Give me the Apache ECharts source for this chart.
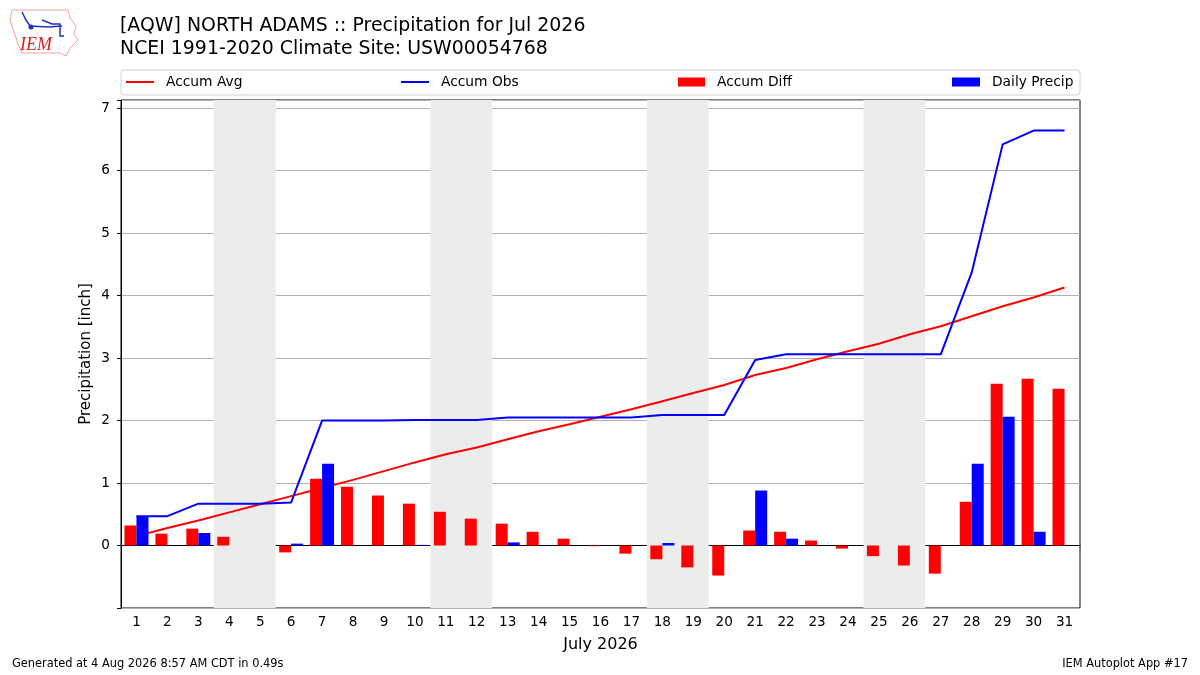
<!DOCTYPE html>
<html>
<head>
<meta charset="utf-8">
<script src="https://cdn.jsdelivr.net/npm/echarts@6/dist/echarts.min.js"></script>
<style>
  html, body { margin: 0; padding: 0; background: #fff; }
  #main { width: 1200px; height: 675px; }
</style>
</head>
<body>
<div id="main"></div>
<script>
var chartDom = document.getElementById('main');
var myChart = echarts.init(chartDom);
var option;

// days of July 2026
const days = ['1', '2', '3', '4', '5', '6', '7', '8', '9', '10', '11', '12', '13', '14', '15', '16',
  '17', '18', '19', '20', '21', '22', '23', '24', '25', '26', '27', '28', '29', '30', '31'];
// weekend days (Sat/Sun pairs) shaded in the background
const weekends = [[4, 5], [11, 12], [18, 19], [25, 26]];

const accumAvg = [0.15, 0.28, 0.40, 0.53, 0.66, 0.79, 0.92, 1.05, 1.19, 1.33, 1.46, 1.57, 1.70, 1.83, 1.94, 2.06,
  2.18, 2.31, 2.44, 2.57, 2.73, 2.84, 2.98, 3.11, 3.23, 3.38, 3.51, 3.67, 3.83, 3.97, 4.13];
const accumObs = [0.47, 0.47, 0.67, 0.67, 0.67, 0.69, 2.00, 2.00, 2.00, 2.01, 2.01, 2.01, 2.05, 2.05, 2.05, 2.05,
  2.05, 2.09, 2.09, 2.09, 2.97, 3.06, 3.06, 3.06, 3.06, 3.06, 3.06, 4.37, 6.42, 6.64, 6.64];
const accumDiff = [0.32, 0.19, 0.27, 0.14, 0.00, -0.11, 1.07, 0.94, 0.80, 0.67, 0.54, 0.43, 0.35, 0.22, 0.11, -0.01,
  -0.13, -0.22, -0.35, -0.48, 0.24, 0.22, 0.08, -0.05, -0.17, -0.32, -0.45, 0.70, 2.59, 2.67, 2.51];
const dailyPrecip = [0.47, 0, 0.20, 0, 0, 0.03, 1.31, 0, 0, 0.01, 0, 0, 0.05, 0, 0, 0,
  0, 0.04, 0, 0, 0.88, 0.11, 0, 0, 0, 0, 0, 1.31, 2.06, 0.22, 0];

const font = 'DejaVu Sans';

function legendAt(name, left, w, h) {
  return {
    data: [name],
    left: left,
    top: 75,
    padding: 0,
    icon: 'rect',
    itemWidth: w,
    itemHeight: h,
    selectedMode: false,
    textStyle: { fontFamily: font, fontSize: 13.8, color: '#000', padding: [0, 0, 0, 7] }
  };
}

option = {
  animation: false,
  backgroundColor: '#fff',
  textStyle: { fontFamily: font },
  title: {
    text: '[AQW] NORTH ADAMS :: Precipitation for Jul 2026\nNCEI 1991-2020 Climate Site: USW00054768',
    left: 120,
    top: 15,
    padding: 0,
    textStyle: { fontFamily: font, fontSize: 18.9, fontWeight: 'normal', color: '#000', lineHeight: 23 }
  },
  legend: [
    legendAt('Accum Avg', 126, 28, 2),
    legendAt('Accum Obs', 401, 28, 2),
    legendAt('Accum Diff', 678, 27, 9),
    legendAt('Daily Precip', 952, 28, 9)
  ],
  graphic: [
    {
      type: 'rect', z: -10,
      shape: { x: 121, y: 70, width: 959, height: 25, r: 3 },
      style: { fill: '#fff', stroke: '#d0d0d0', lineWidth: 1 }
    },
    {
      type: 'polyline', z: 10,
      shape: { points: [[12, 10], [68, 10], [70, 18], [76, 26], [74, 34], [78, 40], [70, 48], [66, 56], [60, 53], [22, 53], [18, 44], [14, 32], [10, 20], [12, 10]] },
      style: { fill: 'none', stroke: '#f4a0a0', lineWidth: 1 }
    },
    {
      type: 'polyline', z: 10,
      shape: { points: [[22, 12], [26, 20], [30, 26], [48, 27], [62, 26]] },
      style: { fill: 'none', stroke: '#2233bb', lineWidth: 1.5 }
    },
    {
      type: 'polyline', z: 10,
      shape: { points: [[42, 20], [52, 24], [60, 24], [60, 36], [64, 36]] },
      style: { fill: 'none', stroke: '#2233bb', lineWidth: 1.5 }
    },
    {
      type: 'circle', z: 10,
      shape: { cx: 31, cy: 27, r: 2.5 },
      style: { fill: '#2233bb' }
    },
    {
      type: 'text', z: 10, left: 20, top: 36,
      style: { text: 'IEM', fill: '#d62020', font: 'italic 18px "Liberation Serif"' }
    },
    {
      type: 'text', left: 12, top: 659,
      style: { text: 'Generated at 4 Aug 2026 8:57 AM CDT in 0.49s', fill: '#000', font: '11.4px "DejaVu Sans"' }
    },
    {
      type: 'text', right: 12, top: 659,
      style: { text: 'IEM Autoplot App #17', fill: '#000', font: '11.4px "DejaVu Sans"' }
    }
  ],
  grid: {
    left: 121, top: 100, width: 959, height: 508,
    show: true, borderColor: '#000', borderWidth: 1, backgroundColor: 'transparent'
  },
  xAxis: [
    {
      type: 'category',
      data: days,
      boundaryGap: true,
      name: 'July 2026',
      nameLocation: 'middle',
      nameGap: 29,
      nameTextStyle: { fontFamily: font, fontSize: 16, color: '#000' },
      axisLine: { lineStyle: { color: '#000', width: 1 } },
      axisTick: { alignWithLabel: true, length: 4, lineStyle: { color: '#000' } },
      axisLabel: { fontFamily: font, fontSize: 13.6, color: '#000', margin: 7, interval: 0 },
      splitLine: { show: false }
    },
    {
      type: 'value',
      min: 0.5,
      max: 31.5,
      show: false,
      splitLine: { show: false }
    }
  ],
  yAxis: {
    type: 'value',
    min: -1,
    max: 7.13,
    interval: 1,
    name: 'Precipitation [inch]',
    nameLocation: 'middle',
    nameGap: 27,
    nameMoveOverlap: false,
    nameTextStyle: { fontFamily: font, fontSize: 15, color: '#000' },
    axisLine: { show: true, lineStyle: { color: '#000', width: 1 } },
    axisTick: { show: true, length: 4, lineStyle: { color: '#000' } },
    axisLabel: {
      fontFamily: font, fontSize: 13.6, color: '#000', margin: 11,
      formatter: function (v) {
        return (Number.isInteger(v) && v >= 0) ? String(v) : '';
      }
    },
    splitLine: { show: true, lineStyle: { color: '#b0b0b0', width: 1 } }
  },
  series: [
    {
      name: 'weekends',
      type: 'line',
      xAxisIndex: 1,
      data: [],
      z: -1,
      silent: true,
      markArea: {
        silent: true,
        itemStyle: { color: '#ececec' },
        data: weekends.map(function (w) {
          return [{ xAxis: w[0] - 0.5 }, { xAxis: w[1] + 0.5 }];
        })
      }
    },
    {
      name: 'Accum Avg',
      type: 'line',
      data: accumAvg,
      showSymbol: false,
      z: 1,
      itemStyle: { color: '#ff0000' },
      lineStyle: { color: '#ff0000', width: 2 }
    },
    {
      name: 'Accum Obs',
      type: 'line',
      data: accumObs,
      showSymbol: false,
      z: 1,
      itemStyle: { color: '#0000ff' },
      lineStyle: { color: '#0000ff', width: 2 }
    },
    {
      name: 'Accum Diff',
      type: 'bar',
      data: accumDiff,
      barWidth: 12,
      barGap: '0%',
      z: 3,
      itemStyle: { color: '#ff0000' }
    },
    {
      name: 'Daily Precip',
      type: 'bar',
      data: dailyPrecip,
      barWidth: 12,
      barGap: '0%',
      z: 3,
      itemStyle: { color: '#0000ff' }
    }
  ]
};

option && myChart.setOption(option);
</script>
</body>
</html>
